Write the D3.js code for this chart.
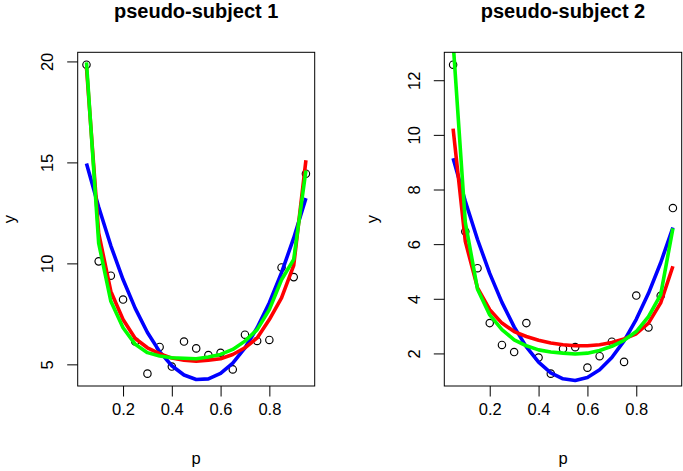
<!DOCTYPE html>
<html>
<head>
<meta charset="utf-8">
<script src="https://cdn.jsdelivr.net/npm/d3@7"></script>
<style>
  html, body { margin: 0; padding: 0; background: #fff; }
  svg { display: block; font-family: "Liberation Sans", Arial, Helvetica, sans-serif; }
</style>
</head>
<body>
<svg id="chart" width="683" height="471"></svg>
<script>
// ---------- data ----------
const p = [0.05, 0.10, 0.15, 0.20, 0.25, 0.30, 0.35, 0.40, 0.45, 0.50,
           0.55, 0.60, 0.65, 0.70, 0.75, 0.80, 0.85, 0.90, 0.95];

// pseudo-subject 1
const y1     = [19.84, 10.10, 9.39, 8.21, 6.13, 4.54, 5.86, 4.89, 6.13, 5.79,
                5.46, 5.57, 4.75, 6.47, 6.16, 6.21, 9.80, 9.32, 14.44];
const blue1  = [14.95, 12.79, 10.87, 9.20, 7.77, 6.58, 5.63, 4.93, 4.47, 4.25,
                4.28, 4.55, 5.06, 5.81, 6.81, 8.05, 9.54, 11.26, 13.23];
const red1   = [19.70, 11.50, 8.61, 7.22, 6.28, 5.82, 5.53, 5.31, 5.21, 5.16,
                5.21, 5.28, 5.49, 5.82, 6.31, 7.22, 8.29, 9.90, 15.11];
const green1 = [19.95, 11.00, 8.12, 6.81, 5.99, 5.58, 5.41, 5.33, 5.30, 5.28,
                5.36, 5.49, 5.74, 6.15, 6.72, 7.71, 9.19, 10.20, 14.60];

// pseudo-subject 2
const y2     = [12.57, 6.46, 5.12, 3.11, 2.31, 2.05, 3.11, 1.85, 1.26, 2.17,
                2.23, 1.48, 1.90, 2.43, 1.69, 4.12, 2.95, 4.11, 7.32];
const blue2  = [9.14, 7.57, 6.17, 4.93, 3.87, 2.97, 2.24, 1.68, 1.29, 1.07,
                1.01, 1.12, 1.40, 1.85, 2.46, 3.25, 4.20, 5.32, 6.61];
const red2   = [10.23, 6.10, 4.40, 3.60, 3.11, 2.80, 2.62, 2.48, 2.38, 2.32,
                2.28, 2.28, 2.32, 2.40, 2.53, 2.72, 3.11, 3.85, 5.19];
const green2 = [13.40, 6.80, 4.35, 3.41, 2.87, 2.50, 2.28, 2.13, 2.05, 2.01,
                1.98, 2.01, 2.11, 2.26, 2.48, 2.80, 3.35, 4.15, 6.58];

const titles   = ["pseudo-subject 1", "pseudo-subject 2"];
const xTicks   = [0.2, 0.4, 0.6, 0.8];
const yTicks1  = [5, 10, 15, 20];
const yTicks2  = [2, 4, 6, 8, 10, 12];
const xLabel   = "p";
const yLabel   = "y";

// ---------- drawing ----------
const svg = d3.select("#chart");
svg.append("rect").attr("width", 683).attr("height", 471).attr("fill", "#fff");

const panels = [
  { title: titles[0], pts: y1, lines: [[blue1, "#0000ff"], [red1, "#ff0000"], [green1, "#00ff00"]],
    yTicks: yTicks1, left: 77.7, right: 314.7 },
  { title: titles[1], pts: y2, lines: [[blue2, "#0000ff"], [red2, "#ff0000"], [green2, "#00ff00"]],
    yTicks: yTicks2, left: 444.3, right: 681.7 }
];
const plotTop = 52.3, plotBottom = 386;

function rDomain(vals) {
  const [lo, hi] = d3.extent(vals);
  const pad = (hi - lo) * 0.04;
  return [lo - pad, hi + pad];
}

panels.forEach((pn, i) => {
  const x = d3.scaleLinear().domain(rDomain(p)).range([pn.left, pn.right]);
  const y = d3.scaleLinear().domain(rDomain(pn.pts)).range([plotBottom, plotTop]);
  const g = svg.append("g");
  const cx = (pn.left + pn.right) / 2;

  const clipId = "clip" + i;
  svg.append("clipPath").attr("id", clipId)
    .append("rect").attr("x", pn.left).attr("y", plotTop)
    .attr("width", pn.right - pn.left).attr("height", plotBottom - plotTop);

  // points
  g.selectAll("circle.pt").data(pn.pts).join("circle")
    .attr("class", "pt")
    .attr("cx", (d, j) => x(p[j])).attr("cy", d => y(d))
    .attr("r", 3.7).attr("fill", "none").attr("stroke", "#000").attr("stroke-width", 1.15);

  // fitted curves
  const line = d3.line().x((d, j) => x(p[j])).y(d => y(d));
  pn.lines.forEach(([vals, col]) => {
    g.append("path").datum(vals)
      .attr("d", line)
      .attr("fill", "none").attr("stroke", col).attr("stroke-width", 3.6)
      .attr("stroke-linejoin", "round").attr("stroke-linecap", "butt")
      .attr("clip-path", `url(#${clipId})`);
  });

  // box
  g.append("rect").attr("x", pn.left).attr("y", plotTop)
    .attr("width", pn.right - pn.left).attr("height", plotBottom - plotTop)
    .attr("fill", "none").attr("stroke", "#000").attr("stroke-width", 1);

  // x axis
  const xa = d3.axisBottom(x).tickValues(xTicks).tickSize(10.5).tickPadding(7)
    .tickFormat(d3.format(".1f"));
  const gx = g.append("g").attr("transform", `translate(0,${plotBottom})`).call(xa);
  gx.select(".domain").remove();
  gx.selectAll("text").attr("font-size", 16.5).attr("fill", "#000")
    .attr("font-family", "Liberation Sans, Arial, sans-serif");
  gx.selectAll("line").attr("stroke", "#000");

  // y axis
  const ya = d3.axisLeft(y).tickValues(pn.yTicks).tickSize(10.5).tickPadding(0)
    .tickFormat(d3.format("d"));
  const gy = g.append("g").attr("transform", `translate(${pn.left},0)`).call(ya);
  gy.select(".domain").remove();
  gy.selectAll("line").attr("stroke", "#000");
  gy.selectAll("text")
    .attr("font-size", 16.5).attr("fill", "#000")
    .attr("font-family", "Liberation Sans, Arial, sans-serif")
    .attr("x", null).attr("dy", null)
    .attr("text-anchor", "middle")
    .attr("transform", "translate(-24.5,0) rotate(-90)");

  // title
  g.append("text").attr("x", cx).attr("y", 17.5)
    .attr("text-anchor", "middle").attr("font-size", 20).attr("font-weight", "bold")
    .text(pn.title);

  // axis labels
  g.append("text").attr("x", cx).attr("y", 464)
    .attr("text-anchor", "middle").attr("font-size", 16.5).text(xLabel);
  const ylx = Math.max(pn.left - 66, 15.2);
  g.append("text")
    .attr("transform", `translate(${ylx},${(plotTop + plotBottom) / 2}) rotate(-90)`)
    .attr("text-anchor", "middle").attr("font-size", 16.5).text(yLabel);
});
</script>
</body>
</html>
